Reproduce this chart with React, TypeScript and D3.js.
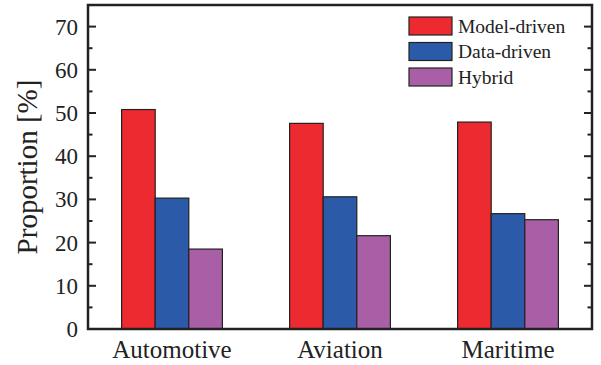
import { scaleBand, scaleLinear, range } from "d3";

const categories = ["Automotive", "Aviation", "Maritime"];
const seriesNames = ["Model-driven", "Data-driven", "Hybrid"];
const modelDriven = [50.8, 47.6, 47.9];
const dataDriven = [30.3, 30.6, 26.7];
const hybrid = [18.5, 21.6, 25.3];
const yTicks = [0, 10, 20, 30, 40, 50, 60, 70];
const colors = ["#ED2A2F", "#2A5AA8", "#A95FA6"];

const width = 601;
const height = 365;
const margin = { top: 5, right: 9, bottom: 36, left: 88 };
const font = "Liberation Serif, Times New Roman, Times, serif";

export default function App() {
  const series = [modelDriven, dataDriven, hybrid];
  const innerW = width - margin.left - margin.right;
  const innerH = height - margin.top - margin.bottom;

  const x = scaleBand<string>()
    .domain(categories)
    .range([0, innerW])
    .paddingInner(0.4)
    .paddingOuter(0.2);
  const xSub = scaleBand<string>()
    .domain(seriesNames)
    .range([0, x.bandwidth()]);
  const y = scaleLinear().domain([0, 75]).range([innerH, 0]);
  const minorTicks = range(0, 75, 5).filter((t) => t % 10 !== 0);

  return (
    <svg
      width={width}
      height={height}
      style={{ position: "absolute", left: 0, top: 0, display: "block", fontFamily: font }}
    >
      <g transform={`translate(${margin.left},${margin.top})`}>
        {categories.map((c, i) => (
          <g key={c} transform={`translate(${x(c)},0)`}>
            {series.map((s, j) => (
              <rect
                key={j}
                x={xSub(seriesNames[j])}
                y={y(s[i])}
                width={xSub.bandwidth()}
                height={innerH - y(s[i])}
                fill={colors[j]}
                stroke="#222"
                strokeWidth={1.2}
              />
            ))}
          </g>
        ))}

        {/* left + right ticks, pointing inward */}
        {yTicks.map((t) => (
          <g key={t}>
            <line x1={0} x2={8} y1={y(t)} y2={y(t)} stroke="#222" strokeWidth={2} />
            <line x1={innerW} x2={innerW - 8} y1={y(t)} y2={y(t)} stroke="#222" strokeWidth={2} />
            <text
              x={-10}
              y={y(t)}
              dy="0.35em"
              textAnchor="end"
              fontSize={23}
              fill="#222"
            >
              {t}
            </text>
          </g>
        ))}
        {minorTicks.map((t) => (
          <g key={t}>
            <line x1={0} x2={4.5} y1={y(t)} y2={y(t)} stroke="#222" strokeWidth={2} />
            <line x1={innerW} x2={innerW - 4.5} y1={y(t)} y2={y(t)} stroke="#222" strokeWidth={2} />
          </g>
        ))}

        <rect
          x={0}
          y={0}
          width={innerW}
          height={innerH}
          fill="none"
          stroke="#222"
          strokeWidth={2.5}
        />

        {categories.map((c) => (
          <text
            key={c}
            x={(x(c) ?? 0) + x.bandwidth() / 2}
            y={innerH + 29}
            textAnchor="middle"
            fontSize={25}
            fill="#222"
          >
            {c}
          </text>
        ))}

        <text
          transform={`translate(${27 - margin.left},${innerH / 2}) rotate(-90)`}
          textAnchor="middle"
          dominantBaseline="central"
          fontSize={29}
          fill="#222"
        >
          Proportion [%]
        </text>

        {/* legend */}
        <g transform={`translate(${409 - margin.left},${17 - margin.top})`}>
          {seriesNames.map((n, j) => (
            <g key={n} transform={`translate(0,${j * 25.5})`}>
              <rect width={43} height={18} fill={colors[j]} stroke="#222" strokeWidth={1.2} />
              <text x={49} y={9} dy="0.35em" fontSize={19.5} fill="#222">
                {n}
              </text>
            </g>
          ))}
        </g>
      </g>
    </svg>
  );
}
